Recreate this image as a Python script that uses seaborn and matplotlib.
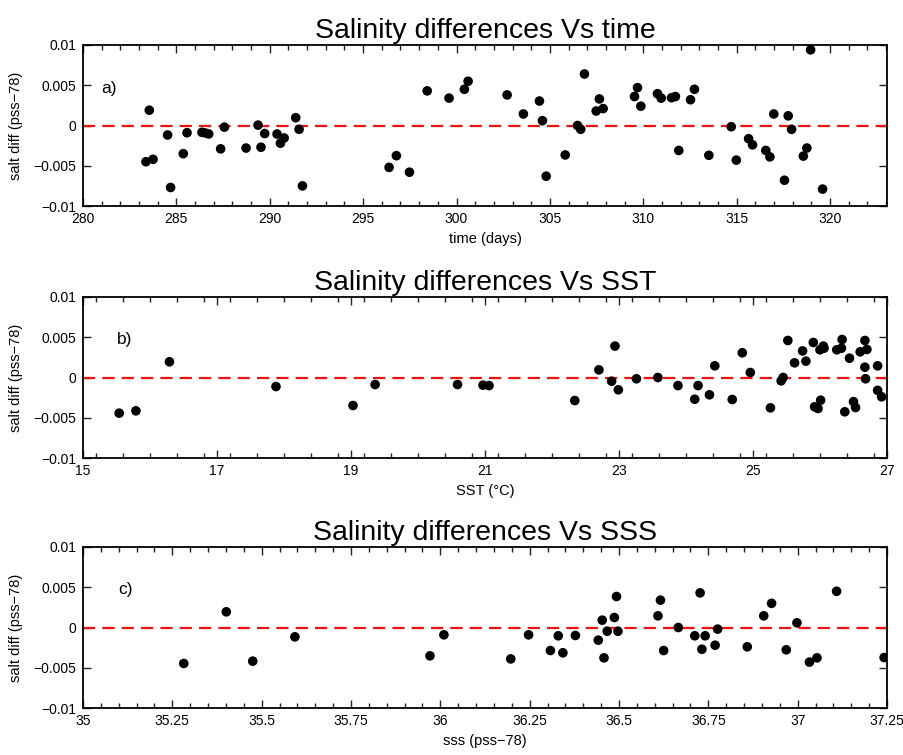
import numpy as np
import pandas as pd
import matplotlib
matplotlib.use("Agg")
import matplotlib.pyplot as plt
from matplotlib.ticker import MultipleLocator
import seaborn as sns

# ---- data ----
time_days = [283.55, 283.37, 283.75, 284.53, 284.69, 285.37, 285.57, 286.37, 286.55, 286.73,
             287.37, 287.57, 288.73, 289.37, 289.53, 289.73, 290.39, 290.57, 290.77, 291.39,
             291.57, 291.75,
             296.39, 296.78, 297.48, 298.43, 299.60, 300.42, 300.62, 302.71, 303.58, 304.44,
             304.60, 304.80, 305.82, 306.48, 306.65, 306.85, 307.48, 307.65, 307.85,
             309.53, 309.69, 309.87, 310.76, 310.96, 311.51, 311.72, 311.90, 312.53, 312.74,
             313.51, 314.71, 314.98, 315.64, 315.85, 316.56, 316.78, 316.99, 317.56, 317.76,
             317.94, 318.57, 318.76, 318.96, 319.60]
diff_time = [0.0019, -0.0045, -0.0042, -0.00118, -0.0077, -0.0035, -0.0009, -0.00085, -0.00093, -0.00105,
             -0.0029, -0.0002, -0.0028, 0.00005, -0.0027, -0.0010, -0.00106, -0.0022, -0.00155, 0.00097,
             -0.00047, -0.0075,
             -0.0052, -0.00375, -0.0058, 0.0043, 0.0034, 0.0045, 0.0055, 0.0038, 0.00143, 0.00304,
             0.0006, -0.0063, -0.00366, 0.0, -0.00047, 0.0064, 0.0018, 0.0033, 0.0021,
             0.0036, 0.0047, 0.0024, 0.00395, 0.0034, 0.00345, 0.0036, -0.0031, 0.0032, 0.0045,
             -0.0037, -0.00015, -0.0043, -0.00164, -0.0024, -0.0031, -0.0039, 0.00143, -0.0068, 0.0012,
             -0.00047, -0.0038, -0.0028, 0.0094, -0.0079]

sst = [15.54, 15.79, 16.29, 17.88, 19.03, 19.36, 20.59, 20.97, 21.06, 22.34,
       22.70, 22.89, 22.94, 22.99, 23.26, 23.58, 23.88, 24.13, 24.18, 24.35,
       24.43, 24.69, 24.84, 24.96, 25.26, 25.42, 25.45, 25.52, 25.62, 25.74,
       25.79, 25.90, 25.92, 25.97, 26.01, 26.00, 26.05, 26.06, 26.25, 26.32,
       26.33, 26.37, 26.44, 26.50, 26.53, 26.60, 26.67, 26.70, 26.67, 26.68,
       26.86, 26.86, 26.92]
diff_sst = [-0.00443, -0.00414, 0.00195, -0.00112, -0.00348, -0.00087, -0.00087, -0.00095, -0.0010, -0.00286,
            0.00095, -0.00046, 0.0039, -0.00153, -0.00016, 0.0, -0.0010, -0.0027, -0.0010, -0.00215,
            0.00145, -0.00273, 0.00307, 0.00062, -0.00377, -0.00041, 0.0, 0.0046, 0.00182, 0.0033,
            0.00203, 0.00435, -0.00364, -0.00385, -0.00282, 0.00344, 0.0039, 0.00364, 0.00344, 0.00364,
            0.00472, -0.00426, 0.0024, -0.0030, -0.00373, 0.00319, 0.0046, 0.00348, 0.00128, -0.00016,
            0.00145, -0.0016, -0.0024]

sss = [35.282, 35.401, 35.475, 35.593, 35.971, 36.010, 36.197, 36.247, 36.308, 36.330,
       36.343, 36.378, 36.442, 36.453, 36.458, 36.467, 36.487, 36.493, 36.497, 36.609,
       36.616, 36.625, 36.666, 36.712, 36.727, 36.732, 36.741, 36.769, 36.776, 36.859,
       36.905, 36.927, 36.968, 36.998, 37.033, 37.054, 37.109, 37.242]
diff_sss = [-0.00447, 0.00195, -0.00418, -0.00116, -0.00352, -0.00091, -0.0039, -0.00091, -0.00286, -0.00103,
            -0.00314, -0.00099, -0.00157, 0.00091, -0.00377, -0.00046, 0.00124, 0.00385, -0.00046, 0.00145,
            0.0034, -0.00286, 0.0, -0.00103, 0.0043, -0.0027, -0.00103, -0.0022, -0.0002, -0.0024,
            0.00145, 0.0030, -0.00277, 0.00058, -0.0043, -0.00377, 0.0045, -0.00373]

titles = ["Salinity differences Vs time", "Salinity differences Vs SST", "Salinity differences Vs SSS"]
xlabels = ["time (days)", "SST (\u00b0C)", "sss (pss\u221278)"]
panel_labels = ["a)", "b)", "c)"]
ylabel = "salt diff (pss\u221278)"
ytick_vals = [-0.01, -0.005, 0, 0.005, 0.01]
ytick_labels = ["\u22120.01", "\u22120.005", "0", "0.005", "0.01"]
xt_a = [280, 285, 290, 295, 300, 305, 310, 315, 320]
xt_b = [15, 17, 19, 21, 23, 25, 27]
xt_c = [35, 35.25, 35.5, 35.75, 36, 36.25, 36.5, 36.75, 37, 37.25]
xt_c_labels = ["35", "35.25", "35.5", "35.75", "36", "36.25", "36.5", "36.75", "37", "37.25"]

sns.set_style("ticks")
plt.rcParams['font.family'] = ['Liberation Sans', 'DejaVu Sans']
plt.rcParams['axes.unicode_minus'] = True
plt.rcParams['text.color'] = 'black'
plt.rcParams['axes.labelcolor'] = 'black'
plt.rcParams['xtick.color'] = 'black'
plt.rcParams['ytick.color'] = 'black'

fig = plt.figure(figsize=(9.04, 7.55), dpi=100)
W, H = 904, 755
def add_ax(top, bottom, left=83, right=887):
    return fig.add_axes([left / W, (H - bottom) / H, (right - left) / W, (bottom - top) / H])

axes = [add_ax(45, 206), add_ax(297, 458), add_ax(547, 708)]

datasets = [
    (pd.DataFrame({"x": time_days, "y": diff_time}), (280, 323.05), xt_a, [str(v) for v in xt_a], 1.0, (281.0, 0.0046)),
    (pd.DataFrame({"x": sst, "y": diff_sst}), (15, 27), xt_b, [str(v) for v in xt_b], 0.4, (15.5, 0.0047)),
    (pd.DataFrame({"x": sss, "y": diff_sss}), (35, 37.25), xt_c, xt_c_labels, 0.05, (35.1, 0.0047)),
]

for ax, (df, xlim, xt, xtl, minor, lblpos), title, xlab, plab in zip(axes, datasets, titles, xlabels, panel_labels):
    ax.axhline(0, color="#ee1111", lw=1.6, dashes=(5.5, 3.2), zorder=1)
    sns.scatterplot(data=df, x="x", y="y", ax=ax, color="black", s=48, edgecolor="none", zorder=3)
    ax.set_xlim(*xlim)
    ax.set_ylim(-0.01, 0.01)
    ax.set_xticks(xt)
    ax.set_xticklabels(xtl)
    ax.xaxis.set_minor_locator(MultipleLocator(minor))
    ax.set_yticks(ytick_vals)
    ax.set_yticklabels(ytick_labels)
    ax.tick_params(which="both", direction="in", top=True, right=True, labelsize=10, colors="#222222", labelcolor="black")
    ax.tick_params(which="major", length=6, width=1.0)
    ax.tick_params(which="minor", length=3.5, width=1.0)
    ax.tick_params(axis="x", pad=4)
    ax.tick_params(axis="y", pad=5)
    for sp in ax.spines.values():
        sp.set_visible(True)
        sp.set_linewidth(1.3)
        sp.set_color("black")
    ax.set_xlabel(xlab, fontsize=10.5, labelpad=5, color="black")
    ax.set_ylabel(ylabel, fontsize=10.5, labelpad=7, color="black")
    ax.set_title(title, fontsize=20.5, pad=5, color="black")
    ax.text(lblpos[0], lblpos[1], plab, fontsize=12.5, va="center", ha="left", color="black")

fig.savefig("out.png", dpi=100)
